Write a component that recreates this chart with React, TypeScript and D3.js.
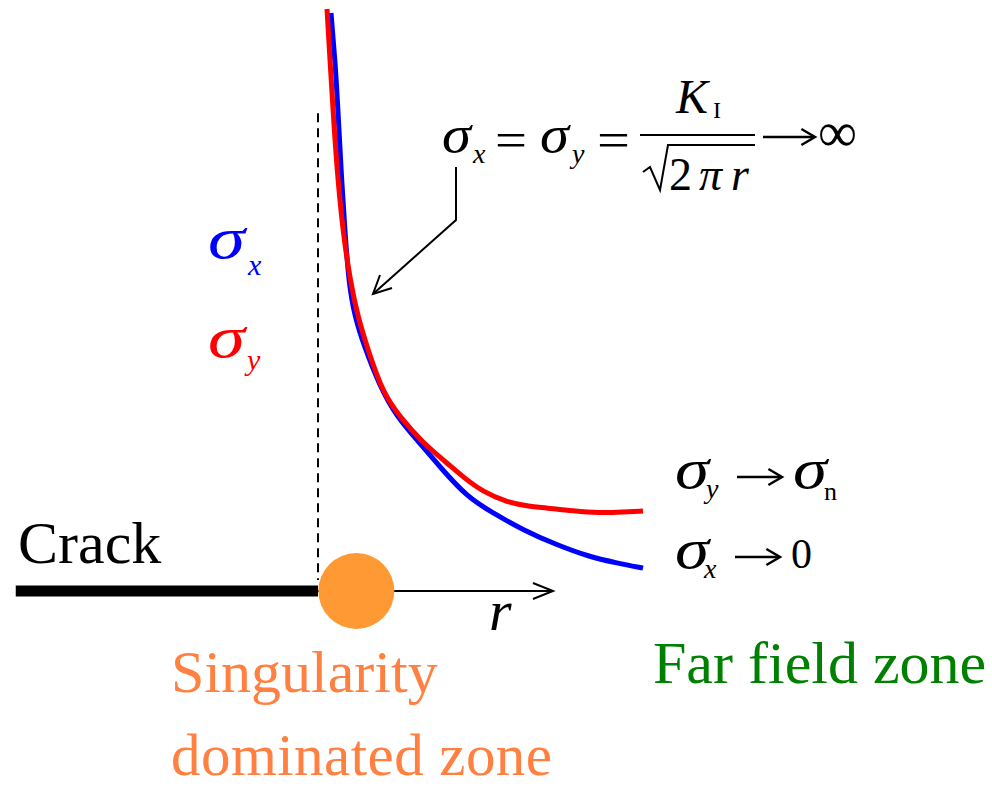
import React from 'react';
import * as d3 from 'd3';

// Normalised distance from crack tip (r) and stress level for each curve
const rRed = [0.277, 0.369, 0.462, 0.585, 0.769, 1.015, 1.231, 1.538, 2.0, 2.523, 3.231, 3.969, 4.462, 5.077, 5.815, 6.431, 7.046, 7.846, 8.677, 9.385, 10.0];
const sRed = [10.0, 9.124, 8.265, 7.234, 6.151, 5.258, 4.708, 4.141, 3.402, 2.99, 2.543, 2.199, 1.959, 1.701, 1.529, 1.46, 1.426, 1.375, 1.34, 1.357, 1.375];
const rBlue = [0.4, 0.523, 0.615, 0.708, 0.831, 0.954, 1.138, 1.385, 1.908, 2.431, 3.046, 3.754, 4.585, 5.385, 6.308, 7.354, 8.369, 9.2, 10.0];
const sBlue = [9.931, 9.124, 8.265, 7.234, 6.151, 5.258, 4.708, 4.261, 3.505, 2.99, 2.595, 2.131, 1.615, 1.34, 1.048, 0.79, 0.584, 0.481, 0.395];

const crackStart = -9.3;
const rAxisEnd = 7.23;
const tipCircleR = 1.18;
const dashTop = 8.21;
const dashBottom = 0.19;

const W = 992;
const H = 788;
const FONT = "'Liberation Serif', 'DejaVu Serif', 'Noto Serif', serif";

function Arrow({ x1, x2, y, w = 2.5, h = 8 }: { x1: number; x2: number; y: number; w?: number; h?: number }) {
  return (
    <g fill="none" stroke="#000" strokeWidth={w}>
      <line x1={x1} x2={x2 - 1} y1={y} y2={y} />
      <polyline points={`${x2 - h * 1.7},${y - h} ${x2},${y} ${x2 - h * 1.7},${y + h}`} strokeLinejoin="miter" />
    </g>
  );
}

export default function App() {
  const x = d3.scaleLinear().domain([0, 10]).range([318, 643]);
  const y = d3.scaleLinear().domain([0, 10]).range([591, 9]);
  const line = d3
    .line<[number, number]>()
    .x((d) => x(d[0]))
    .y((d) => y(d[1]))
    .curve(d3.curveBasis);
  const red = line(rRed.map((r, i) => [r, sRed[i]]) as [number, number][]) || '';
  const blue = line(rBlue.map((r, i) => [r, sBlue[i]]) as [number, number][]) || '';

  const y0 = y(0);
  const axEnd = x(rAxisEnd);

  const T = (props: any) => <text fontFamily={FONT} {...props} />;
  const I = (props: any) => <T fontStyle="italic" {...props} />;
  const S = (props: any) => <I lengthAdjust="spacingAndGlyphs" {...props} />;

  return (
    <svg width={W} height={H} style={{ position: 'absolute', left: 0, top: 0, background: '#fff' }}>
      {/* dashed line at crack tip */}
      <line x1={x(0)} x2={x(0)} y1={y(dashTop)} y2={y(dashBottom)} stroke="#000" strokeWidth={2} strokeDasharray="9,6" />
      {/* crack */}
      <line x1={x(crackStart)} x2={x(0)} y1={y0} y2={y0} stroke="#000" strokeWidth={11} />
      {/* r axis */}
      <line x1={x(0)} x2={axEnd} y1={y0} y2={y0} stroke="#000" strokeWidth={2} />
      <polyline points={`${axEnd - 20},${y0 - 8} ${axEnd},${y0} ${axEnd - 20},${y0 + 8}`} fill="none" stroke="#000" strokeWidth={2} />
      {/* singularity circle */}
      <circle cx={x(tipCircleR)} cy={y0} r={38} fill="#FF9933" />

      {/* curves */}
      <path d={blue} fill="none" stroke="#0000FF" strokeWidth={5} />
      <path d={red} fill="none" stroke="#FF0000" strokeWidth={5} />

      {/* pointer */}
      <polyline points="456,167 456,220 373,294" fill="none" stroke="#000" strokeWidth={2} />
      <polyline points="380,275 373,294 392,288" fill="none" stroke="#000" strokeWidth={2} />

      {/* formula */}
      <g fill="#000">
        <S x={442} y={152} fontSize={52} textLength={29}>σ</S>
        <I x={473} y={163} fontSize={28}>x</I>
        <T x={495} y={157} fontSize={50} textLength={32} lengthAdjust="spacingAndGlyphs">=</T>
        <S x={540} y={152} fontSize={52} textLength={29}>σ</S>
        <I x={572} y={163} fontSize={28}>y</I>
        <T x={597} y={157} fontSize={50} textLength={33} lengthAdjust="spacingAndGlyphs">=</T>
        <line x1={640} x2={755} y1={135} y2={135} stroke="#000" strokeWidth={2} />
        <I x={676} y={113} fontSize={48}>K</I>
        <T x={713} y={118} fontSize={24}>I</T>
        <path d="M643,172 L650,167 L660,190 L668,145 L755,145" fill="none" stroke="#000" strokeWidth={2} />
        <T x={669} y={190} fontSize={46} textLength={80} lengthAdjust="spacing">
          2<tspan fontStyle="italic">π</tspan><tspan fontStyle="italic" dx={2}>r</tspan>
        </T>
        <Arrow x1={763} x2={815} y={137} />
        <T x={818} y={151} fontSize={56} textLength={39} lengthAdjust="spacingAndGlyphs">∞</T>
      </g>

      {/* left sigma labels */}
      <S x={208} y={258} fontSize={60} textLength={37} fill="#0000FF">σ</S>
      <I x={248} y={275} fontSize={30} fill="#0000FF">x</I>
      <S x={208} y={357} fontSize={60} textLength={37} fill="#FF0000">σ</S>
      <I x={247} y={370} fontSize={30} fill="#FF0000">y</I>

      {/* right limit labels */}
      <g fill="#000">
        <S x={675} y={488} fontSize={56} textLength={34}>σ</S>
        <I x={706} y={498} fontSize={28}>y</I>
        <Arrow x1={737} x2={782} y={477} />
        <S x={793} y={488} fontSize={56} textLength={34}>σ</S>
        <T x={824} y={500} fontSize={26}>n</T>
        <S x={675} y={568} fontSize={56} textLength={34}>σ</S>
        <I x={704} y={578} fontSize={28}>x</I>
        <Arrow x1={735} x2={780} y={557} />
        <T x={791} y={568} fontSize={42}>0</T>
      </g>

      <T x={18} y={563} fontSize={60}>Crack</T>
      <I x={489} y={630} fontSize={58}>r</I>
      <T x={171} y={692} fontSize={60} fill="#FF8040">Singularity</T>
      <T x={171} y={775} fontSize={59} fill="#FF8040" textLength={381}>dominated zone</T>
      <T x={653} y={683} fontSize={60} fill="#008000">Far field zone</T>
    </svg>
  );
}
